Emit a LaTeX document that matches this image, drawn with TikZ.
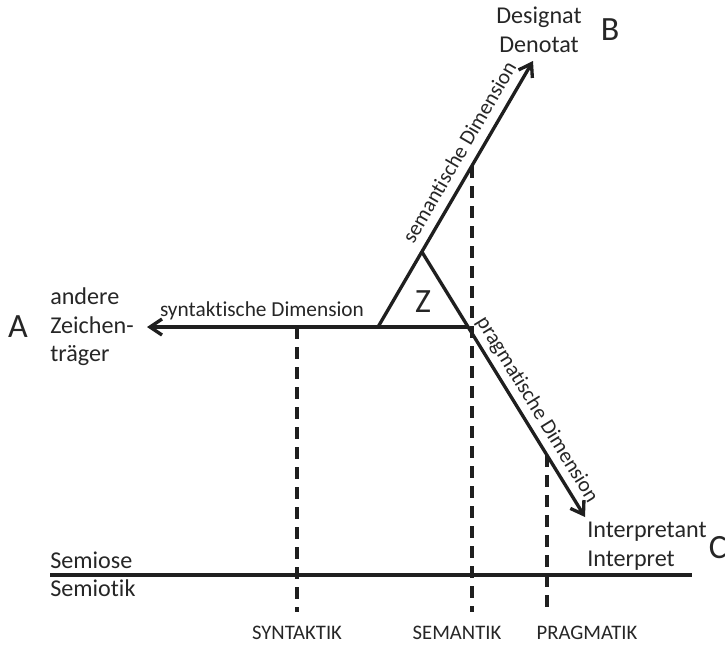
\documentclass[tikz,border=0pt]{standalone}
\usepackage{fontspec}
\setmainfont{Carlito}[Ligatures=NoCommon]
\usetikzlibrary{arrows.meta}
\begin{document}
\begin{tikzpicture}[x=0.75pt,y=-0.75pt,
  ink/.style={line width=2.5pt, draw=black!88},
  arr/.style={ink, -{Straight Barb[length=9pt,width=12pt,line width=2.5pt]}},
  projline/.style={line width=2.5pt, draw=black!88, dash pattern=on 9pt off 6pt},
  lbl/.style={text=black!85, font=\fontsize{18.1}{21.5}\selectfont, inner sep=0pt},
  dimlbl/.style={text=black!85, font=\fontsize{16}{18}\selectfont, inner sep=0pt},
  sci/.style={text=black!85, font=\fontsize{15.5}{18}\selectfont, inner sep=0pt},
  big/.style={text=black!85, font=\fontsize{25.5}{30}\selectfont, inner sep=0pt}]
\useasboundingbox (0,0) rectangle (725,646);

% triangle vertices and arrow ends
\coordinate (L) at (378,327);
\coordinate (T) at (422,252);
\coordinate (R) at (468,327);
\coordinate (Bt) at (533,61);
\coordinate (Ct) at (585,517);
\coordinate (At) at (147,327);

% the three dimensions
\draw[arr] (R) -- (At);
\draw[arr] (L) -- (Bt);
\draw[arr] (T) -- (Ct);
\node[dimlbl] (syn) at (262,311) {syntaktische Dimension};
\node[dimlbl, rotate=59.8] (sem) at (459,152) {semantische Dimension};
\node[dimlbl, rotate=-58.4] (prag) at (537,410) {pragmatische Dimension};

\node[big] (Z) at (423,302) {Z};

% Semiose / Semiotik divider
\coordinate (s1) at (50,575);
\coordinate (s2) at (692,575);
\draw[ink] (s1) -- (s2);
\node[lbl, anchor=base west] (semiose) at (50,568) {Semiose};
\node[lbl, anchor=base west] (semiotik) at (50,596) {Semiotik};

% projections onto the disciplines
\coordinate (d1a) at (297,327);
\coordinate (d1b) at (297,612);
\coordinate (d2a) at (472,166);
\coordinate (d2b) at (472,612);
\coordinate (d3a) at (547,455);
\coordinate (d3b) at (547,612);
\draw[projline] (d1a) -- (d1b);
\draw[projline] (d2a) -- (d2b);
\draw[projline] (d3a) -- (d3b);

\node[sci] (syntaktik) at (297,633) {SYNTAKTIK};
\node[sci] (semantik) at (457,633) {SEMANTIK};
\node[sci] (pragmatik) at (587,633) {PRAGMATIK};

% relata
\node[big] (A) at (18,327) {A};
\node[lbl, anchor=west, align=left] (zt) at (50,327) {andere\\Zeichen-\\träger};
\node[big] (B) at (610,30) {B};
\node[lbl, align=center] (den) at (539,30) {Designat\\Denotat};
\node[big] (C) at (718,548) {C};
\node[lbl, anchor=west, align=left] (int) at (587,546) {Interpretant\\Interpret};
\end{tikzpicture}
\end{document}
